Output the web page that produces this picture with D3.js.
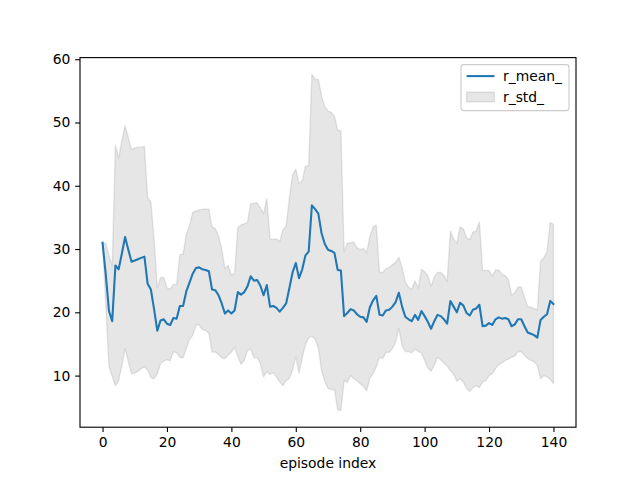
<!DOCTYPE html>
<html>
<head>
<meta charset="utf-8">
<script src="https://cdn.jsdelivr.net/npm/d3@7"></script>
<style>
  html, body { margin: 0; padding: 0; background: #fff; }
  svg { display: block; }
  text { font-family: "DejaVu Sans", sans-serif; }
</style>
</head>
<body>
<svg id="chart" width="640" height="480"></svg>
<script>
// ---- data ----
const r_mean = [
  31.0, 26.0, 20.2, 18.6, 27.4, 26.8, 29.3, 31.9, 29.9, 28.0,
  28.2, 28.4, 28.6, 28.8, 24.5, 23.6, 20.5, 17.1, 18.7, 18.9,
  18.2, 18.0, 19.1, 19.0, 21.0, 21.0, 23.3, 24.7, 26.1, 27.0,
  27.1, 26.8, 26.7, 26.5, 23.6, 23.5, 22.7, 21.4, 19.8, 20.3,
  19.8, 20.3, 23.2, 22.8, 23.2, 24.1, 25.7, 25.0, 25.1, 24.2,
  22.7, 24.3, 20.9, 21.0, 20.7, 20.1, 20.7, 21.4, 23.8, 26.3,
  27.8, 25.4, 26.8, 29.0, 29.6, 36.9, 36.3, 35.6, 32.5, 30.8,
  29.9, 29.7, 29.4, 26.7, 26.6, 19.4, 19.9, 20.5, 20.3, 19.7,
  19.3, 19.2, 18.5, 20.8, 21.9, 22.6, 19.6, 19.5, 20.3, 20.4,
  20.9, 21.6, 23.1, 20.9, 19.3, 18.9, 18.6, 19.6, 18.8, 20.2,
  19.4, 18.5, 17.4, 18.6, 19.6, 19.4, 18.9, 18.2, 21.8, 20.9,
  20.0, 21.5, 21.1, 19.9, 19.5, 20.4, 20.6, 21.2, 17.8, 17.9,
  18.3, 18.0, 18.9, 19.2, 19.0, 19.1, 18.9, 17.8, 18.1, 18.9,
  18.9, 17.8, 16.8, 16.6, 16.4, 16.0, 18.8, 19.3, 19.7, 21.8,
  21.3
];
const r_std = [
  0.0, 4.9, 8.8, 8.7, 19.0, 17.6, 17.8, 17.6, 17.7, 17.7,
  17.8, 17.7, 17.5, 17.4, 13.6, 13.9, 11.0, 6.8, 6.8, 6.6,
  5.7, 5.65, 5.3, 5.4, 8.1, 8.2, 9.0, 9.0, 9.7, 9.0,
  9.1, 9.5, 9.6, 9.8, 9.9, 9.75, 9.35, 8.6, 7.1, 7.1,
  6.1, 5.8, 10.2, 11.0, 10.8, 10.1, 11.5, 12.2, 12.2, 12.3,
  12.9, 13.7, 10.7, 10.5, 10.9, 11.1, 12.3, 12.2, 14.2, 15.4,
  14.8, 15.0, 14.0, 14.1, 13.6, 20.7, 20.5, 21.2, 21.7, 21.7,
  21.9, 21.9, 21.6, 22.1, 22.1, 10.2, 11.0, 10.5, 10.8, 10.5,
  10.6, 10.9, 10.9, 11.2, 11.6, 11.2, 6.7, 6.8, 6.6, 6.7,
  6.6, 6.3, 5.6, 6.2, 5.5, 5.1, 5.0, 5.4, 5.0, 6.6,
  7.0, 7.3, 6.7, 7.0, 6.7, 6.9, 6.9, 6.7, 11.0, 10.7,
  10.9, 12.0, 12.1, 11.9, 12.0, 12.3, 12.2, 13.1, 8.8, 8.7,
  8.3, 7.7, 7.8, 7.5, 7.0, 6.7, 6.3, 4.9, 5.0, 5.1,
  5.1, 4.6, 4.1, 4.2, 4.2, 4.4, 9.3, 9.3, 9.9, 12.4,
  12.6
];
const episodes = r_mean.map((_, i) => i);
const xTicks = [0, 20, 40, 60, 80, 100, 120, 140];
const yTicks = [10, 20, 30, 40, 50, 60];
const seriesNames = ["r_mean_", "r_std_"];
const xLabel = "episode index";

(function () {
  // ---- layout ----
  const W = 640, H = 480;
  const axL = 80, axR = 576, axT = 57.6, axB = 427.2;
  const fontPx = 13.89;

  const rows = episodes.map((e, i) => ({ x: e, m: r_mean[i], lo: r_mean[i] - r_std[i], hi: r_mean[i] + r_std[i] }));

  const xExt = d3.extent(episodes);
  const xPad = (xExt[1] - xExt[0]) * 0.05;
  const yMin = d3.min(rows, d => d.lo), yMax = d3.max(rows, d => d.hi);
  const yPad = (yMax - yMin) * 0.05;

  const x = d3.scaleLinear().domain([xExt[0] - xPad, xExt[1] + xPad]).range([axL, axR]);
  const y = d3.scaleLinear().domain([yMin - yPad, yMax + yPad]).range([axB, axT]);

  const svg = d3.select("#chart");
  svg.append("rect").attr("width", W).attr("height", H).attr("fill", "#fff");

  svg.append("defs").append("clipPath").attr("id", "plotclip")
    .append("rect").attr("x", axL).attr("y", axT).attr("width", axR - axL).attr("height", axB - axT);

  const plot = svg.append("g").attr("clip-path", "url(#plotclip)");

  // std band
  const area = d3.area().x(d => x(d.x)).y0(d => y(d.lo)).y1(d => y(d.hi));
  plot.append("path").datum(rows)
    .attr("d", area)
    .attr("fill", "#808080").attr("fill-opacity", 0.2)
    .attr("stroke", "#808080").attr("stroke-opacity", 0.2).attr("stroke-width", 1.39)
    .attr("stroke-linejoin", "round");

  // mean line
  const line = d3.line().x(d => x(d.x)).y(d => y(d.m));
  plot.append("path").datum(rows)
    .attr("d", line)
    .attr("fill", "none")
    .attr("stroke", "#1f77b4").attr("stroke-width", 2.08)
    .attr("stroke-linejoin", "round").attr("stroke-linecap", "square");

  // axes
  const xAxis = d3.axisBottom(x).tickValues(xTicks).tickFormat(d3.format("d")).tickSize(4.86).tickPadding(4.86);
  const yAxis = d3.axisLeft(y).tickValues(yTicks).tickFormat(d3.format("d")).tickSize(4.86).tickPadding(4.86);

  const gx = svg.append("g").attr("transform", `translate(0,${axB})`).call(xAxis);
  const gy = svg.append("g").attr("transform", `translate(${axL},0)`).call(yAxis);
  [gx, gy].forEach(g => {
    g.select(".domain").remove();
    g.selectAll(".tick line").attr("stroke", "#000").attr("stroke-width", 1.11);
    g.selectAll(".tick text").attr("fill", "#000").style("font-family", "DejaVu Sans").style("font-size", fontPx + "px");
  });

  // spines
  svg.append("rect").attr("x", axL).attr("y", axT).attr("width", axR - axL).attr("height", axB - axT)
    .attr("fill", "none").attr("stroke", "#000").attr("stroke-width", 1.11);

  // x label
  svg.append("text").attr("x", (axL + axR) / 2).attr("y", 468)
    .attr("text-anchor", "middle").style("font-size", fontPx + "px").attr("fill", "#000").text(xLabel);

  // legend
  const lg = svg.append("g");
  const lx = 461, ly = 64.6, lw = 108, lh = 46;
  lg.append("rect").attr("x", lx).attr("y", ly).attr("width", lw).attr("height", lh).attr("rx", 2.8)
    .attr("fill", "#fff").attr("fill-opacity", 0.8).attr("stroke", "#cccccc").attr("stroke-width", 1.11);
  lg.append("line").attr("x1", lx + 5.6).attr("x2", lx + 33.4).attr("y1", ly + 11.5).attr("y2", ly + 11.5)
    .attr("stroke", "#1f77b4").attr("stroke-width", 2.08);
  lg.append("text").attr("x", lx + 42).attr("y", ly + 16.3).style("font-size", fontPx + "px").attr("fill", "#000").text(seriesNames[0]);
  lg.append("rect").attr("x", lx + 5.6).attr("y", ly + 27.5).attr("width", 27.8).attr("height", 9.7)
    .attr("fill", "#808080").attr("fill-opacity", 0.2).attr("stroke", "#808080").attr("stroke-opacity", 0.2).attr("stroke-width", 1.39);
  lg.append("text").attr("x", lx + 42).attr("y", ly + 37).style("font-size", fontPx + "px").attr("fill", "#000").text(seriesNames[1]);
})();
</script>
</body>
</html>
